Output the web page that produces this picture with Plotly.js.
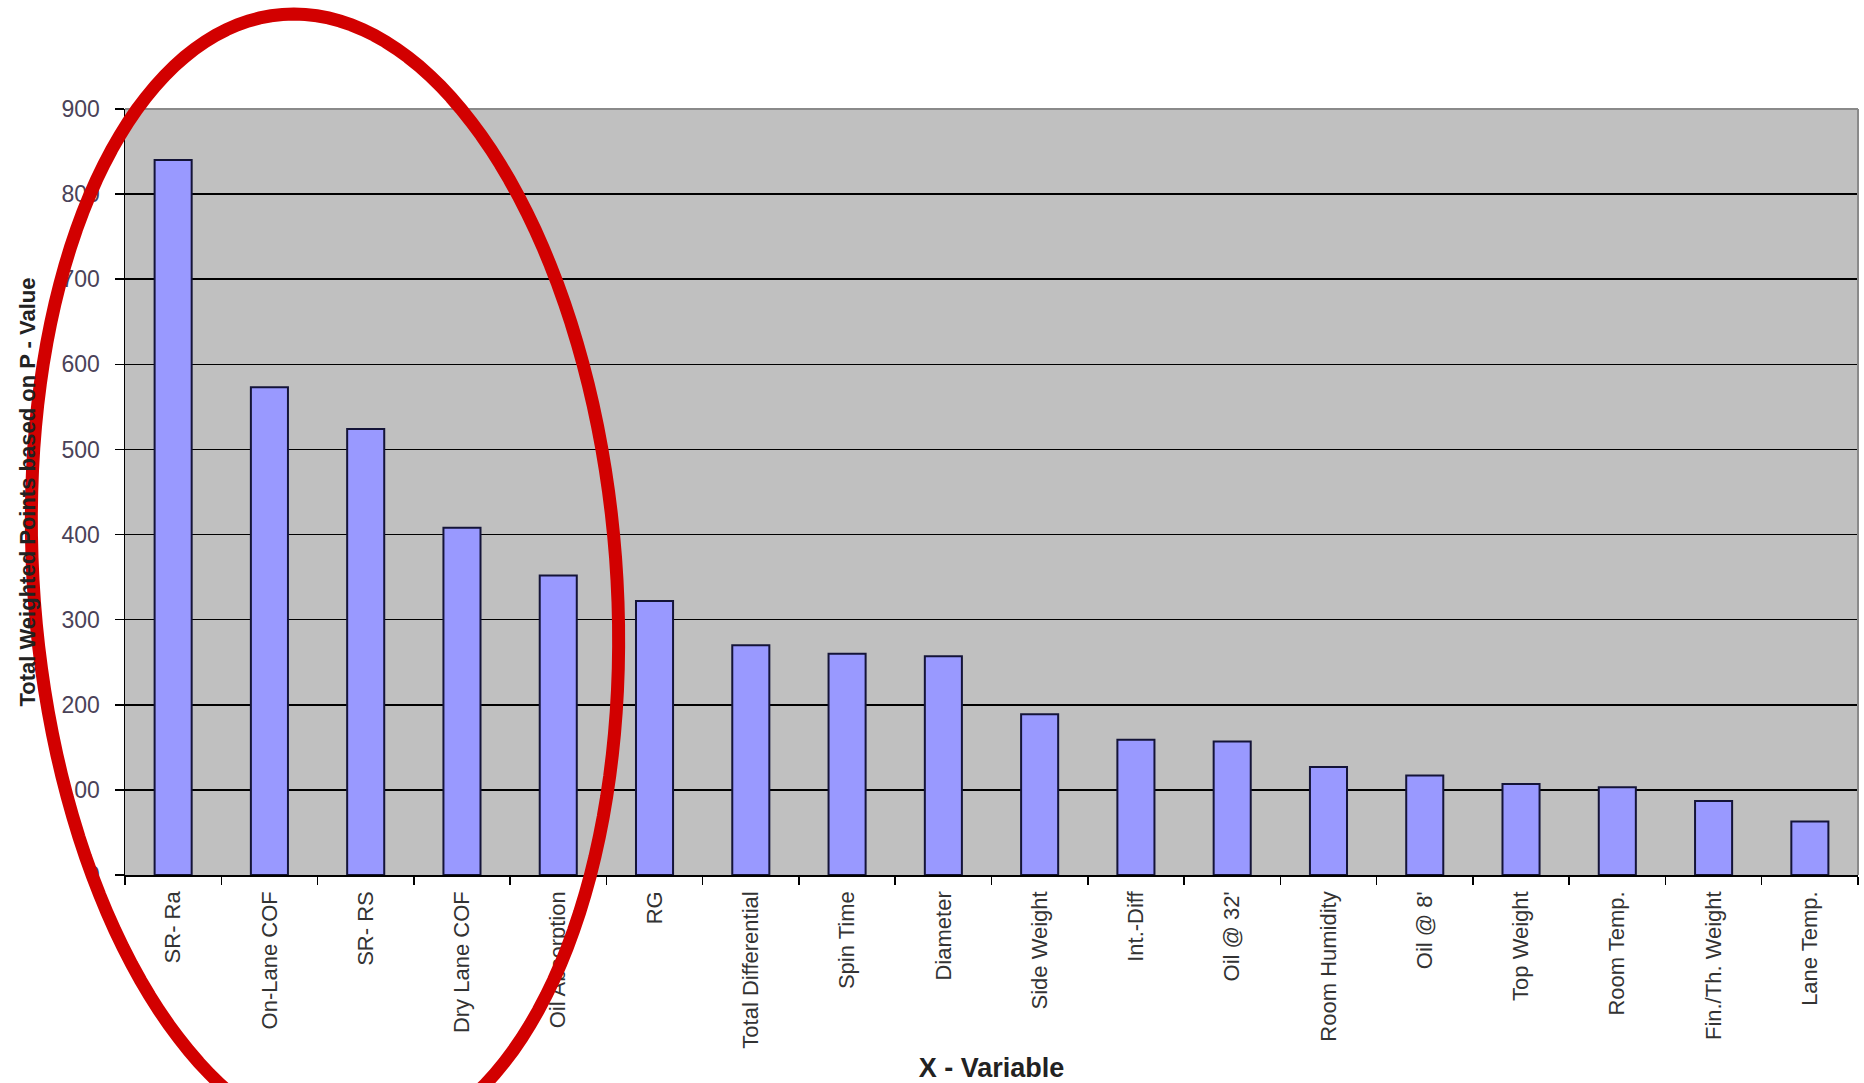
<!DOCTYPE html>
<html>
<head>
<meta charset="utf-8">
<script src="https://cdn.plot.ly/plotly-3.0.1.min.js"></script>
<style>
html, body { margin: 0; padding: 0; background: #ffffff; }
#chart { width: 1864px; height: 1083px; }
</style>
</head>
<body>
<div id="chart"></div>
<script>
// ---- data ----
const categories = [
  "SR- Ra", "On-Lane COF", "SR- RS", "Dry Lane COF", "Oil Absorption", "RG",
  "Total Differential", "Spin Time", "Diameter", "Side Weight", "Int.-Diff",
  "Oil @ 32'", "Room Humidity", "Oil @ 8'", "Top Weight", "Room Temp.",
  "Fin./Th. Weight", "Lane Temp."
];
const points = [840, 573, 524, 408, 352, 322, 270, 260, 257, 189, 159, 157, 127, 117, 107, 103, 87, 63];
const yTicks = [0, 100, 200, 300, 400, 500, 600, 700, 800, 900];

// ---- layout geometry (pixels) ----
const W = 1864, H = 1083;
const M = { l: 125, r: 6, t: 109, b: 208 };
const PW = W - M.l - M.r, PH = H - M.t - M.b;
const toPaperX = px => (px - M.l) / PW;
const toPaperY = py => (H - M.b - py) / PH;

// red hand-drawn highlight ellipse (decoration), defined in pixel space
function ellipsePath(cx, cy, a, b, k, n) {
  let d = "";
  for (let i = 0; i <= n; i++) {
    const t = (i / n) * 2 * Math.PI;
    const px = cx + a * Math.cos(t) + k * b * Math.sin(t);
    const py = cy + b * Math.sin(t);
    d += (i === 0 ? "M " : " L ") + toPaperX(px).toFixed(5) + "," + toPaperY(py).toFixed(5);
  }
  return d + " Z";
}

const trace = {
  type: "bar",
  x: categories,
  y: points,
  marker: { color: "#9999ff", line: { color: "#141438", width: 2 } },
  hoverinfo: "skip"
};

const font = "'Liberation Sans', Arial, sans-serif";

const layout = {
  width: W, height: H,
  margin: M,
  paper_bgcolor: "#ffffff",
  plot_bgcolor: "#c0c0c0",
  showlegend: false,
  bargap: 0.615,
  font: { family: font, color: "#333333" },
  xaxis: {
    type: "category",
    range: [-0.5, categories.length - 0.5],
    tickangle: -90,
    ticks: "outside",
    tickson: "boundaries",
    ticklen: 8,
    tickwidth: 1.5,
    tickcolor: "#000000",
    ticklabelstandoff: 6,
    tickfont: { family: font, size: 22, color: "#333333" },
    showline: true, linecolor: "#000000", linewidth: 1.5,
    showgrid: false, zeroline: false,
    title: { text: "X - Variable", standoff: 20, font: { family: font, size: 27, color: "#222222", weight: "bold" } }
  },
  yaxis: {
    range: [0, 900],
    tickvals: yTicks,
    ticktext: yTicks.map(String),
    ticks: "outside",
    ticklen: 9,
    tickwidth: 1.5,
    tickcolor: "#000000",
    ticklabelstandoff: 10,
    tickfont: { family: font, size: 23, color: "#4a4258" },
    showline: true, linecolor: "#000000", linewidth: 1.5,
    showgrid: true, gridcolor: "#000000", gridwidth: 1.6,
    zeroline: false,
    title: { text: "Total Weighted Points based on P - Value", standoff: 20, font: { family: font, size: 22, color: "#222222", weight: "bold" } }
  },
  shapes: [
    { type: "line", xref: "paper", yref: "paper", x0: 0, x1: 1, y0: 1, y1: 1, line: { color: "#8a8a8a", width: 2 }, layer: "above" },
    { type: "line", xref: "paper", yref: "paper", x0: 1, x1: 1, y0: 0, y1: 1, line: { color: "#8a8a8a", width: 2 }, layer: "above" },
    { type: "path", xref: "paper", yref: "paper", layer: "above",
      path: ellipsePath(325, 580, 292, 566, 0.055, 160),
      line: { color: "#d20000", width: 13 }, fillcolor: "rgba(0,0,0,0)" }
  ]
};

Plotly.newPlot("chart", [trace], layout, { staticPlot: true, displayModeBar: false });
</script>
</body>
</html>
